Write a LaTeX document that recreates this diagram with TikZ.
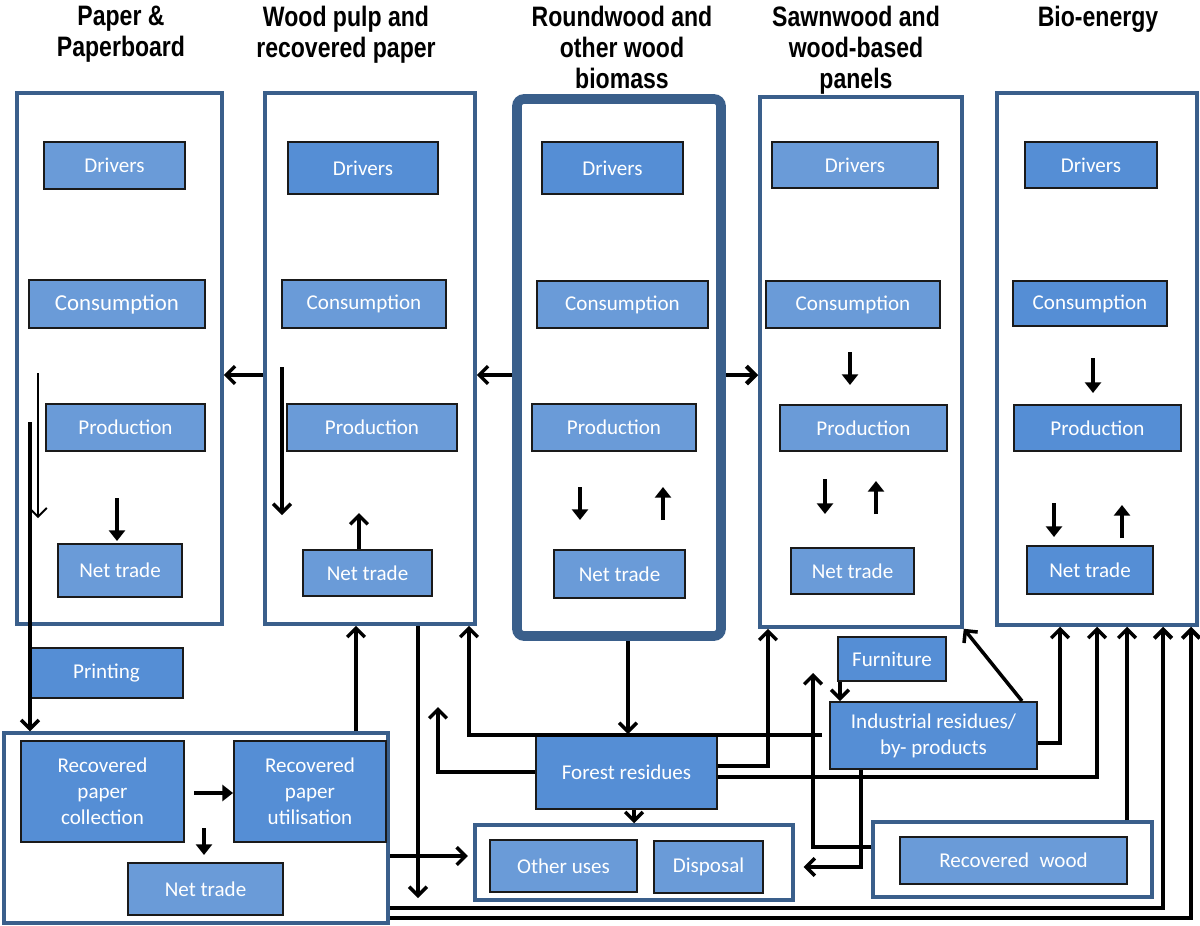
\documentclass[tikz,border=0pt]{standalone}
\usepackage{fontspec}
\setmainfont{Carlito}
\newfontfamily\hdrfont[FakeStretch=0.82]{Liberation Sans}
\usetikzlibrary{arrows.meta,calc}
\definecolor{obord}{HTML}{3A5F8B}
\definecolor{lfill}{HTML}{6A9BD8}
\definecolor{dfill}{HTML}{558ED5}
\definecolor{ibord}{HTML}{1A1A1A}
\newcommand\mybox[7]{\node[#6,minimum width={(#4-#2)*0.02cm},minimum height={(#5-#3)*0.02cm}] (#1) at ({(#2+#4)/2},{(#3+#5)/2}) {#7};}
\begin{document}
\begin{tikzpicture}[x=0.02cm,y=-0.02cm,
  colbox/.style={draw=obord,line width=2pt,fill=white,inner sep=0pt},
  lbox/.style={draw=ibord,line width=1.1pt,fill=lfill,text=white,inner sep=0pt,align=center,font=\fontsize{12}{14.7}\selectfont},
  dbox/.style={lbox,fill=dfill},
  hdr/.style={anchor=north,align=center,inner sep=0pt,font=\hdrfont\bfseries\fontsize{16}{17.6}\selectfont},
  conn/.style={line width=2pt,-{Straight Barb[length=5pt,width=10pt]}},
  fat/.style={line width=2.4pt,-{Triangle[length=6pt,width=9pt]}},
]
\useasboundingbox (0,0) rectangle (1200,926);
% headers
\node[hdr] (h1) at (121,6) {Paper \&\\Paperboard};
\node[hdr] (h2) at (346,6) {Wood pulp and\\recovered paper};
\node[hdr] (h3) at (622,6) {Roundwood and\\other wood\\biomass};
\node[hdr] (h4) at (856,6) {Sawnwood and\\wood-based\\panels};
\node[hdr] (h5) at (1098,6) {Bio-energy};
% column boxes
\mybox{c1}{17}{93}{222}{624}{colbox}{}
\mybox{c2}{265}{93}{475}{624}{colbox}{}
\mybox{c3}{517}{99}{721}{636}{colbox,line width=5.5pt,rounded corners=4pt}{}
\mybox{c4}{760}{97}{962}{627}{colbox}{}
\mybox{c5}{997}{93}{1197}{625}{colbox}{}
% bottom outer boxes
\mybox{rp}{4}{733}{388}{923}{colbox}{}
\mybox{ou}{475}{825}{793}{900}{colbox}{}
\mybox{rwo}{873}{822}{1152}{897}{colbox}{}
% column 1
\mybox{c1d}{44}{142}{185}{189}{lbox}{Drivers}
\mybox{c1c}{29}{280}{205}{328}{lbox,font=\fontsize{13}{15}\selectfont}{Consumption}
\mybox{c1p}{46}{404}{205}{451}{lbox}{Production}
\mybox{c1n}{58}{544}{182}{597}{lbox}{Net trade}
% column 2
\mybox{c2d}{288}{142}{438}{194}{dbox}{Drivers}
\mybox{c2c}{282}{280}{446}{328}{lbox}{Consumption}
\mybox{c2p}{287}{404}{457}{451}{lbox}{Production}
\mybox{c2n}{303}{550}{432}{596}{lbox}{Net trade}
% column 3
\mybox{c3d}{542}{142}{683}{194}{dbox}{Drivers}
\mybox{c3c}{537}{281}{708}{328}{lbox}{Consumption}
\mybox{c3p}{532}{404}{696}{451}{lbox}{Production}
\mybox{c3n}{554}{550}{685}{598}{lbox}{Net trade}
% column 4
\mybox{c4d}{772}{142}{938}{188}{lbox}{Drivers}
\mybox{c4c}{766}{281}{940}{328}{lbox}{Consumption}
\mybox{c4p}{780}{405}{947}{451}{lbox}{Production}
\mybox{c4n}{791}{548}{914}{594}{lbox}{Net trade}
% column 5
\mybox{c5d}{1025}{142}{1157}{188}{dbox}{Drivers}
\mybox{c5c}{1013}{281}{1167}{326}{dbox}{Consumption}
\mybox{c5p}{1014}{405}{1181}{451}{dbox}{Production}
\mybox{c5n}{1027}{546}{1153}{594}{dbox}{Net trade}
% lower boxes
\mybox{prt}{30}{648}{183}{698}{dbox}{Printing}
\mybox{rpc}{21}{741}{184}{842}{dbox}{Recovered\\paper\\collection}
\mybox{rpu}{234}{741}{386}{842}{dbox}{Recovered\\paper\\utilisation}
\mybox{rpn}{128}{863}{283}{915}{lbox}{Net trade}
\mybox{fr}{536}{735}{717}{809}{dbox}{Forest residues}
\mybox{ir}{830}{702}{1037}{769}{dbox}{Industrial residues/\\by- products}
\mybox{furn}{838}{637}{946}{681}{dbox}{Furniture}
\mybox{oth}{490}{840}{637}{892}{lbox}{Other uses}
\mybox{disp}{654}{841}{763}{893}{lbox}{Disposal}
\mybox{rw}{900}{837}{1127}{884}{lbox}{Recovered\enspace wood}
% free coordinates
\coordinate (t1a) at (38,373); \coordinate (t1b) at (38,518);
\coordinate (t2a) at (30,422);
\coordinate (p1a) at (117,498); \coordinate (p1b) at (117,541);
\coordinate (q1a) at (282,367); \coordinate (q1b) at (282,515);
\coordinate (q2b) at (359,513);
\coordinate (r1a) at (580,487); \coordinate (r1b) at (580,520);
\coordinate (r2a) at (663,520); \coordinate (r2b) at (663,487);
\coordinate (s1a) at (850,352); \coordinate (s1b) at (850,385);
\coordinate (s2a) at (825,479); \coordinate (s2b) at (825,514);
\coordinate (s3a) at (876,514); \coordinate (s3b) at (876,481);
\coordinate (u1a) at (1093,358); \coordinate (u1b) at (1093,393);
\coordinate (u2a) at (1054,503); \coordinate (u2b) at (1054,537);
\coordinate (u3a) at (1122,538); \coordinate (u3b) at (1122,505);
\coordinate (v1a) at (194,793);
\coordinate (v2a) at (204,828); \coordinate (v2b) at (204,855);
\coordinate (w2) at (418,898);
\coordinate (w6) at (438,707);
\coordinate (w13) at (813,673);
% column arrows
\draw[conn,line width=1.1pt] (t1a) -- (t1b);
\draw[conn] (t2a) -- (rp.north -| t2a);
\draw[fat] (p1a) -- (p1b);
\draw[conn] (c2.west |- 0,375) -- (c1.east |- 0,375);
\draw[conn] (q1a) -- (q1b);
\draw[conn] (c2n.north -| q2b) -- (q2b);
\draw[conn] (c3.west |- 0,375) -- (c2.east |- 0,375);
\draw[conn,line width=2.5pt] (c3.east |- 0,375) -- (c4.west |- 0,375);
\draw[fat] (r1a) -- (r1b);
\draw[fat] (r2a) -- (r2b);
\draw[fat] (s1a) -- (s1b);
\draw[fat] (s2a) -- (s2b);
\draw[fat] (s3a) -- (s3b);
\draw[fat] (u1a) -- (u1b);
\draw[fat] (u2a) -- (u2b);
\draw[fat] (u3a) -- (u3b);
% recovered paper arrows
\draw[fat] (v1a) -- (rpu.west |- v1a);
\draw[fat] (v2a) -- (v2b);
% lower connectors
\draw[conn] (rp.north -| 356,0) -- (c2.south -| 356,0);
\draw[conn] (c2.south -| w2) -- (w2);
\draw[conn] (rp.east |- 0,856) -- ([xshift=-3pt]ou.west |- 0,856);
\draw[conn] (c3.south -| 628,0) -- (fr.north -| 628,0);
\draw[conn] (fr.south -| 634,0) -- (ou.north -| 634,0);
\draw[conn] (fr.west |- 0,772) -| (w6);
\draw[conn] ([xshift=-4pt]ir.west |- 0,735) -| (c2.south -| 469,0);
\draw[conn] (fr.east |- 0,766) -| (c4.south -| 768,0);
\draw[conn] (fr.east |- 0,777) -| (c5.south -| 1097,0);
\draw[conn] (ir.east |- 0,743) -| (c5.south -| 1060,0);
\draw[conn] (ir.north -| 1022,0) -- (c4.south east);
\draw[conn] (furn.south -| 840,0) -- (ir.north -| 840,0);
\draw[conn] (rwo.west |- 0,847) -| (w13);
\draw[conn] (ir.south -| 861,0) |- ([xshift=5pt]ou.east |- 0,867);
\draw[conn] (rwo.north -| 1127,0) -- (c5.south -| 1127,0);
\draw[conn,line width=2.3pt] (rp.east |- 0,908) -| (c5.south -| 1163,0);
\draw[conn,line width=2.3pt] (rp.east |- 0,918) -| (c5.south -| 1191,0);
\end{tikzpicture}
\end{document}
